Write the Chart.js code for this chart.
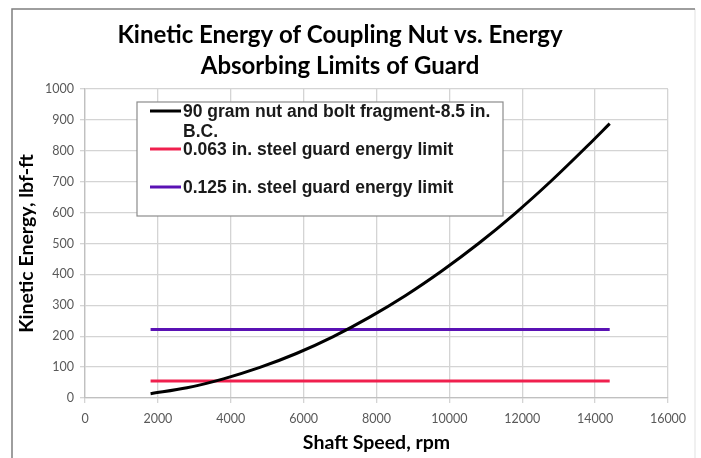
<!DOCTYPE html>
<html>
<head>
<meta charset="utf-8">
<script src="https://cdn.jsdelivr.net/npm/chart.js@4.4.1/dist/chart.umd.min.js"></script>
<style>
  html, body { margin: 0; padding: 0; background: #fff; }
  #wrap { width: 701px; height: 458px; position: relative; }
</style>
</head>
<body>
<div id="wrap"><canvas id="myChart" width="701" height="458"></canvas></div>
<script>
// shaft speed (rpm) and kinetic energy (lbf-ft)
var speed = [1800, 2800, 3800, 4800, 5800, 6800, 7800, 8800, 9800, 10800, 11800, 12800, 13800, 14400]
var energy = [14, 33, 62, 99, 144, 198, 261, 332, 412, 500, 597, 703, 817, 888]
var limitSpeed = [1800, 14400]
var limit063 = [55, 55]
var limit125 = [222, 222]
var xTicks = [0, 2000, 4000, 6000, 8000, 10000, 12000, 14000, 16000]
var yTicks = [0, 100, 200, 300, 400, 500, 600, 700, 800, 900, 1000]

var etiquetas = ["90 gram nut and bolt fragment-8.5 in. B.C.",
                 "0.063 in. steel guard energy limit",
                 "0.125 in. steel guard energy limit"]

function pares(xs, ys) {
  return xs.map(function (x, i) { return { x: x, y: ys[i] } })
}

// grey frame round the chart, like the Excel chart border
var moldura = {
  id: "moldura",
  beforeDraw: function (chart) {
    var c = chart.ctx
    c.save()
    c.fillStyle = "#fff"
    c.fillRect(0, 0, chart.width, chart.height)
    c.strokeStyle = "#f0f0f0"
    c.lineWidth = 2
    c.beginPath(); c.moveTo(695, 9); c.lineTo(695, 458); c.stroke()
    c.strokeStyle = "#7f7f7f"
    c.lineWidth = 1.5
    c.beginPath(); c.moveTo(12, 458); c.lineTo(12, 9); c.lineTo(695, 9); c.stroke()
    c.restore()
  }
}

// legend box drawn inside the plot area
var legendaDentro = {
  id: "legendaDentro",
  afterDraw: function (chart) {
    var c = chart.ctx
    var sets = chart.data.datasets
    var bx = 137, by = 102, bw = 366, bh = 114
    c.save()
    c.fillStyle = "#fff"
    c.fillRect(bx, by, bw, bh)
    c.strokeStyle = "#8c8c8c"
    c.lineWidth = 1.2
    c.strokeRect(bx, by, bw, bh)
    var linhas = [
      { ds: 0, y: 111, texto: ["90 gram nut and bolt fragment-8.5 in.", "B.C."] },
      { ds: 1, y: 149, texto: [sets[1].label] },
      { ds: 2, y: 187, texto: [sets[2].label] }
    ]
    c.font = "bold 17.5px 'Liberation Sans', Arial, sans-serif"
    c.textBaseline = "middle"
    linhas.forEach(function (l) {
      c.strokeStyle = sets[l.ds].borderColor
      c.lineWidth = 3
      c.beginPath(); c.moveTo(150, l.y); c.lineTo(181, l.y); c.stroke()
      c.fillStyle = "#1a1a1a"
      l.texto.forEach(function (t, k) {
        c.fillText(t, 183, l.y + 1 + k * 20)
      })
    })
    c.restore()
  }
}

var ctx = document.getElementById("myChart").getContext("2d")
var myChart = new Chart(ctx, {
  type: "scatter",
  data: {
    datasets: [
      {
        label: etiquetas[0],
        data: pares(speed, energy),
        showLine: true,
        borderColor: "#000000",
        backgroundColor: "#000000",
        borderWidth: 3,
        pointRadius: 0,
        cubicInterpolationMode: "monotone",
      },
      {
        label: etiquetas[1],
        data: pares(limitSpeed, limit063),
        showLine: true,
        borderColor: "#f0204e",
        backgroundColor: "#f0204e",
        borderWidth: 3,
        pointRadius: 0,
      },
      {
        label: etiquetas[2],
        data: pares(limitSpeed, limit125),
        showLine: true,
        borderColor: "#5a12b4",
        backgroundColor: "#5a12b4",
        borderWidth: 3,
        pointRadius: 0,
      },
    ],
  },
  plugins: [moldura, legendaDentro],
  options: {
    responsive: false,
    animation: false,
    layout: { padding: { left: 12, right: 33, top: 10, bottom: 0 } },
    plugins: {
      legend: { display: false },
      tooltip: { enabled: false },
      title: {
        display: true,
        text: ["Kinetic Energy of Coupling Nut vs. Energy", "Absorbing Limits of Guard"],
        color: "#000",
        font: { family: "Lato", size: 24, weight: "bold", lineHeight: 1.3 },
        padding: { top: 9.4, bottom: 7.2 },
      },
    },
    scales: {
      x: {
        type: "linear",
        min: 0,
        max: 16000,
        afterBuildTicks: function (s) { s.ticks = xTicks.map(function (v) { return { value: v } }) },
        ticks: {
          color: "#595959", font: { family: "Lato", size: 12.5 }, padding: 8, maxRotation: 0,
          callback: function (v) { return String(v) },
        },
        grid: { color: "#d4d4d4", lineWidth: 1.3, tickLength: 5 },
        border: { color: "#c0c0c0", width: 1.3 },
        title: {
          display: true,
          text: "Shaft Speed, rpm",
          color: "#000",
          font: { family: "Lato", size: 19.5, weight: "bold" },
          padding: { top: 0, bottom: 4 },
        },
        afterFit: function (s) { s.height = 60 },
      },
      y: {
        min: 0,
        max: 1000,
        afterBuildTicks: function (s) { s.ticks = yTicks.map(function (v) { return { value: v } }) },
        ticks: {
          color: "#595959", font: { family: "Lato", size: 12.5 }, padding: 6,
          callback: function (v) { return String(v) },
        },
        grid: { color: "#d4d4d4", lineWidth: 1.3, tickLength: 5 },
        border: { color: "#c0c0c0", width: 1.3 },
        title: {
          display: true,
          text: "Kinetic Energy, lbf-ft",
          color: "#000",
          font: { family: "Lato", size: 19.5, weight: "bold" },
          padding: { top: 3.3, bottom: 0 },
        },
        afterFit: function (s) { s.width = 73 },
      },
    },
  },
})
</script>
</body>
</html>
